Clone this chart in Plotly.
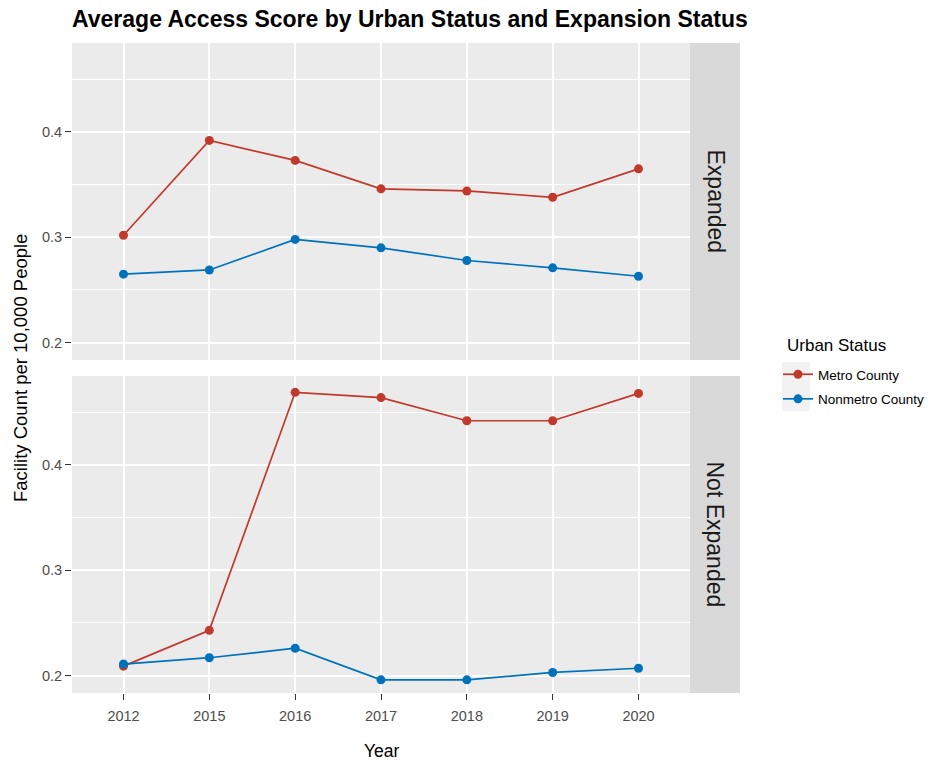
import plotly.graph_objects as go
from plotly.subplots import make_subplots

# Average facility access score (facilities per 10,000 people)
years = ["2012", "2015", "2016", "2017", "2018", "2019", "2020"]
metro_expanded = [0.302, 0.392, 0.373, 0.346, 0.344, 0.338, 0.365]
nonmetro_expanded = [0.265, 0.269, 0.298, 0.290, 0.278, 0.271, 0.263]
metro_not_expanded = [0.209, 0.243, 0.469, 0.464, 0.442, 0.442, 0.468]
nonmetro_not_expanded = [0.211, 0.217, 0.226, 0.196, 0.196, 0.203, 0.207]

panels = ["Expanded", "Not Expanded"]
series_names = ["Metro County", "Nonmetro County"]
y_ticks = [0.2, 0.3, 0.4]
y_minor = [0.25, 0.35, 0.45]

FONT = "Liberation Sans, Arial, sans-serif"
COLORS = {"Metro County": "#C1392B", "Nonmetro County": "#0072BB"}
PANEL_BG = "#EBEBEB"
STRIP_BG = "#D9D9D9"
KEY_BG = "#F2F2F2"

panel_data = {
    "Expanded": {"Metro County": metro_expanded, "Nonmetro County": nonmetro_expanded},
    "Not Expanded": {"Metro County": metro_not_expanded, "Nonmetro County": nonmetro_not_expanded},
}

fig = make_subplots(rows=2, cols=1, shared_xaxes=True)

for r, panel in enumerate(panels, start=1):
    for name in series_names:
        fig.add_trace(
            go.Scatter(
                x=years,
                y=panel_data[panel][name],
                mode="lines+markers",
                name=name,
                legendgroup=name,
                showlegend=(r == 1),
                line=dict(color=COLORS[name], width=1.7),
                marker=dict(color=COLORS[name], size=9),
            ),
            row=r, col=1,
        )

# Plot-area geometry (pixels)
W, H = 941, 763
ML, MR, MT, MB = 72, 201, 43, 70
pw, ph = W - ML - MR, H - MT - MB
panel_right = 690
strip_right = 740
top_panel = (43, 360)
bot_panel = (376, 693)

def px_to_paper_x(px):
    return (px - ML) / pw

def px_to_paper_y(py):
    return (H - MB - py) / ph

x_dom = [0, px_to_paper_x(panel_right)]
top_dom = [px_to_paper_y(top_panel[1]), px_to_paper_y(top_panel[0])]
bot_dom = [px_to_paper_y(bot_panel[1]), px_to_paper_y(bot_panel[0])]

y_range = [0.1835, 0.4845]

common_y = dict(
    range=y_range,
    tickvals=y_ticks,
    ticktext=[f"{v:.1f}" for v in y_ticks],
    showgrid=True, gridcolor="white", gridwidth=1.6,
    minor=dict(tickvals=y_minor, showgrid=True, gridcolor="white", gridwidth=0.8),
    ticks="outside", ticklen=6, tickwidth=1.1, tickcolor="#333333",
    tickfont=dict(family=FONT, size=14.5, color="#4D4D4D"),
    zeroline=False, showline=False, fixedrange=True,
)
common_x = dict(
    type="category",
    categoryorder="array", categoryarray=years,
    range=[-0.6, len(years) - 0.4],
    showgrid=True, gridcolor="white", gridwidth=1.6,
    zeroline=False, showline=False, domain=x_dom,
)

fig.update_layout(
    xaxis=dict(common_x, showticklabels=False, ticks=""),
    xaxis2=dict(
        common_x,
        ticks="outside", ticklen=6, tickwidth=1.1, tickcolor="#333333",
        tickfont=dict(family=FONT, size=14.5, color="#4D4D4D"),
        ticklabelstandoff=4,
    ),
    yaxis=dict(common_y, domain=top_dom),
    yaxis2=dict(common_y, domain=bot_dom),
)

# Facet strips on the right of each panel
shapes = []
annotations = []
for panel, dom in zip(panels, [top_dom, bot_dom]):
    shapes.append(dict(
        type="rect", xref="paper", yref="paper",
        x0=px_to_paper_x(panel_right), x1=px_to_paper_x(strip_right),
        y0=dom[0], y1=dom[1],
        fillcolor=STRIP_BG, line=dict(width=0), layer="below",
    ))
    annotations.append(dict(
        text=panel, xref="paper", yref="paper",
        x=px_to_paper_x((panel_right + strip_right) / 2), y=(dom[0] + dom[1]) / 2,
        xanchor="center", yanchor="middle", textangle=90, showarrow=False,
        font=dict(family=FONT, size=23, color="#1A1A1A"),
    ))

# Legend heading and the light panel behind the legend keys
annotations.append(dict(
    text="Urban Status", xref="paper", yref="paper",
    x=px_to_paper_x(785), y=px_to_paper_y(345), xanchor="left", yanchor="middle",
    showarrow=False, font=dict(family=FONT, size=17, color="black"),
))
shapes.append(dict(
    type="rect", xref="paper", yref="paper",
    x0=px_to_paper_x(782), x1=px_to_paper_x(810),
    y0=px_to_paper_y(411), y1=px_to_paper_y(362),
    fillcolor=KEY_BG, line=dict(width=0), layer="below",
))

# Axis titles
annotations.append(dict(
    text="Facility Count per 10,000 People", xref="paper", yref="paper",
    x=px_to_paper_x(20), y=px_to_paper_y(368), xanchor="center", yanchor="middle",
    textangle=-90, showarrow=False,
    font=dict(family=FONT, size=18.5, color="black"),
))
annotations.append(dict(
    text="Year", xref="paper", yref="paper",
    x=px_to_paper_x(382), y=px_to_paper_y(751), xanchor="center", yanchor="middle",
    showarrow=False,
    font=dict(family=FONT, size=17.5, color="black"),
))

fig.update_layout(
    width=W, height=H,
    margin=dict(l=ML, r=MR, t=MT, b=MB, autoexpand=False),
    paper_bgcolor="white",
    plot_bgcolor=PANEL_BG,
    font=dict(family=FONT, color="black"),
    title=dict(
        text="<b>Average Access Score by Urban Status and Expansion Status</b>",
        x=ML / W, xanchor="left", xref="container",
        y=1 - 19 / H, yanchor="middle", yref="container",
        font=dict(family=FONT, size=23, color="black"),
    ),
    shapes=shapes,
    annotations=annotations,
    legend=dict(
        font=dict(family=FONT, size=13.5, color="black"),
        x=px_to_paper_x(778), y=px_to_paper_y(359),
        xanchor="left", yanchor="top",
        bgcolor="rgba(0,0,0,0)",
        tracegroupgap=4,
        itemwidth=30,
    ),
)

fig.write_html("out.html")
